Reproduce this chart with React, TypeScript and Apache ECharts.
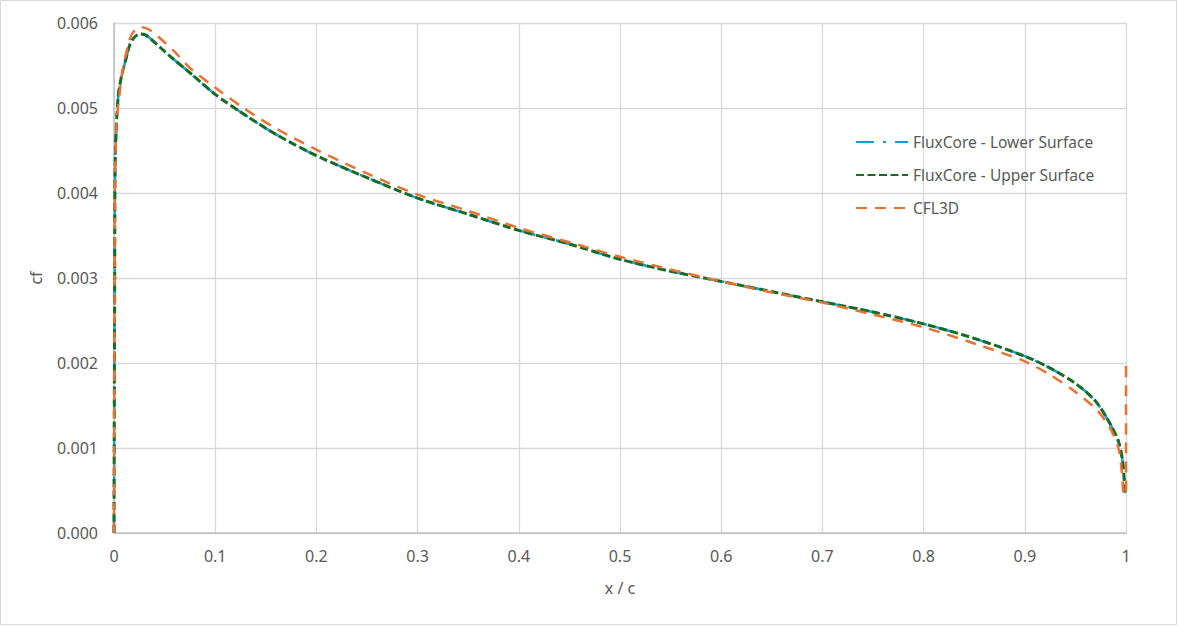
import React, { useEffect, useRef } from "react";
import * as echarts from "echarts";

// ---- data ----
const seriesNames = ["FluxCore - Lower Surface", "FluxCore - Upper Surface", "CFL3D"];

const xTickLabels = ["0", "0.1", "0.2", "0.3", "0.4", "0.5", "0.6", "0.7", "0.8", "0.9", "1"];
const yTickLabels = ["0.000", "0.001", "0.002", "0.003", "0.004", "0.005", "0.006"];

const fluxUpperX = [
  0, 0.0003, 0.0007, 0.001, 0.002, 0.0043, 0.0075, 0.011, 0.0158, 0.02, 0.0257, 0.031, 0.0356,
  0.045, 0.0553, 0.0784, 0.1, 0.128, 0.16, 0.2, 0.25, 0.3, 0.35, 0.4, 0.45, 0.5, 0.55, 0.6,
  0.65, 0.7, 0.75, 0.8, 0.85, 0.9, 0.925, 0.95, 0.97, 0.984, 0.9925, 0.9967, 0.999,
];
const fluxUpperY = [
  0, 0.0015, 0.003, 0.0042, 0.0047, 0.00515, 0.00538, 0.00554, 0.00575, 0.00583, 0.00587,
  0.00586, 0.00582, 0.00572, 0.00561, 0.00538, 0.00516, 0.00493, 0.00469, 0.00444, 0.00418,
  0.00394, 0.00375, 0.00356, 0.0034, 0.00322, 0.00308, 0.00296, 0.00284, 0.00272, 0.0026,
  0.00246, 0.00229, 0.00208, 0.00194, 0.00176, 0.00155, 0.00129, 0.00108, 0.00084, 0.00047,
];

const fluxLowerX = [
  0, 0.0003, 0.0007, 0.001, 0.002, 0.0043, 0.0075, 0.011, 0.0158, 0.02, 0.0257, 0.031, 0.0356,
  0.045, 0.0553, 0.0784, 0.1, 0.128, 0.16, 0.2, 0.25, 0.3, 0.35, 0.4, 0.45, 0.5, 0.55, 0.6,
  0.65, 0.7, 0.75, 0.8, 0.85, 0.9, 0.925, 0.95, 0.97, 0.984, 0.9925, 0.9967, 0.999,
];
const fluxLowerY = [
  0, 0.0015, 0.003, 0.0042, 0.0047, 0.00515, 0.00538, 0.00554, 0.00575, 0.00583, 0.00587,
  0.00586, 0.00582, 0.00572, 0.00561, 0.00538, 0.00516, 0.00493, 0.00469, 0.00444, 0.00418,
  0.00394, 0.00375, 0.00356, 0.0034, 0.00322, 0.00308, 0.00296, 0.00284, 0.00272, 0.0026,
  0.00246, 0.00229, 0.00208, 0.00194, 0.00176, 0.00155, 0.00129, 0.00108, 0.00084, 0.00047,
];

const cfl3dX = [
  0, 0.0003, 0.0006, 0.001, 0.0025, 0.0043, 0.0092, 0.0158, 0.021, 0.0274, 0.035, 0.0455, 0.06,
  0.0751, 0.1, 0.128, 0.16, 0.2, 0.25, 0.3, 0.35, 0.4, 0.45, 0.5, 0.55, 0.6, 0.65, 0.7, 0.75,
  0.8, 0.85, 0.9, 0.925, 0.95, 0.971, 0.984, 0.9925, 0.996, 0.998, 1.0, 1.0,
];
const cfl3dY = [
  0, 0.0015, 0.003, 0.0042, 0.0048, 0.00505, 0.00548, 0.00582, 0.00592, 0.00595, 0.00592,
  0.00582, 0.00566, 0.00547, 0.00524, 0.005, 0.00476, 0.00451, 0.00423, 0.00398, 0.00379,
  0.00359, 0.00342, 0.00325, 0.0031, 0.00296, 0.00283, 0.00271, 0.00257, 0.00242, 0.00223,
  0.00202, 0.00186, 0.00166, 0.00145, 0.00124, 0.001, 0.00071, 0.00045, 0.00045, 0.00197,
];

const colors = ["#0F9ED5", "#196B24", "#E97132"];

function pairs(xs: number[], ys: number[]) {
  return xs.map((x, i) => [x, ys[i]]);
}

export default function App() {
  const ref = useRef<HTMLDivElement>(null);

  useEffect(() => {
    document.body.style.margin = "0";
    if (!ref.current) return;
    const chart = echarts.init(ref.current, undefined, { renderer: "svg" });
    const font = "Noto Sans";
    const textColor = "#595959";
    chart.setOption({
      animation: false,
      backgroundColor: "#ffffff",
      graphic: [
        {
          type: "rect",
          shape: { x: 0.5, y: 0.5, width: 1176, height: 624 },
          style: { fill: "none", stroke: "#d9d9d9", lineWidth: 1 },
          silent: true,
        },
      ],
      grid: { left: 114, right: 52, top: 23, bottom: 93 },
      legend: {
        orient: "vertical",
        left: 850,
        top: 129,
        itemWidth: 52,
        itemHeight: 14,
        itemGap: 17,
        itemStyle: { color: "transparent", borderWidth: 0, opacity: 0 },
        textStyle: { fontFamily: font, fontSize: 15.5, color: textColor },
        data: seriesNames,
      },
      xAxis: {
        type: "value",
        min: 0,
        max: 1,
        interval: 0.1,
        name: "x / c",
        nameLocation: "middle",
        nameGap: 47,
        nameTextStyle: { fontFamily: font, fontSize: 16, color: textColor },
        axisLine: { show: true, lineStyle: { color: "#bfbfbf", width: 1.5 } },
        axisTick: { show: false },
        axisLabel: {
          fontFamily: font,
          fontSize: 16,
          color: textColor,
          margin: 15,
          formatter: (v: number) => xTickLabels[Math.round(v * 10)],
        },
        splitLine: { show: true, lineStyle: { color: "#d9d9d9", width: 1.3 } },
      },
      yAxis: {
        type: "value",
        min: 0,
        max: 0.006,
        interval: 0.001,
        name: "cf",
        nameLocation: "middle",
        nameGap: 70,
        nameTextStyle: { fontFamily: font, fontSize: 16, color: textColor },
        axisLine: { show: true, lineStyle: { color: "#bfbfbf", width: 1.5 } },
        axisTick: { show: false },
        axisLabel: {
          fontFamily: font,
          fontSize: 16,
          color: textColor,
          margin: 16,
          formatter: (v: number) => yTickLabels[Math.round(v * 1000)],
        },
        splitLine: { show: true, lineStyle: { color: "#d9d9d9", width: 1.3 } },
      },
      series: [
        {
          name: seriesNames[0],
          type: "line",
          symbol: "none",
          smooth: 0.3,
          data: pairs(fluxLowerX, fluxLowerY),
          lineStyle: { color: colors[0], width: 2.5, type: [18, 9, 3, 9], cap: "butt" },
          itemStyle: { color: colors[0] },
          z: 2,
        },
        {
          name: seriesNames[1],
          type: "line",
          symbol: "none",
          smooth: 0.3,
          data: pairs(fluxUpperX, fluxUpperY),
          lineStyle: { color: colors[1], width: 3, type: [8, 3.5], cap: "butt" },
          itemStyle: { color: colors[1] },
          z: 3,
        },
        {
          name: seriesNames[2],
          type: "line",
          symbol: "none",
          smooth: 0.3,
          data: pairs(cfl3dX, cfl3dY),
          lineStyle: { color: colors[2], width: 2.5, type: [11, 8], cap: "butt" },
          itemStyle: { color: colors[2] },
          z: 4,
        },
      ],
    });
    return () => chart.dispose();
  }, []);

  return <div ref={ref} style={{ width: 1178, height: 626 }} />;
}
